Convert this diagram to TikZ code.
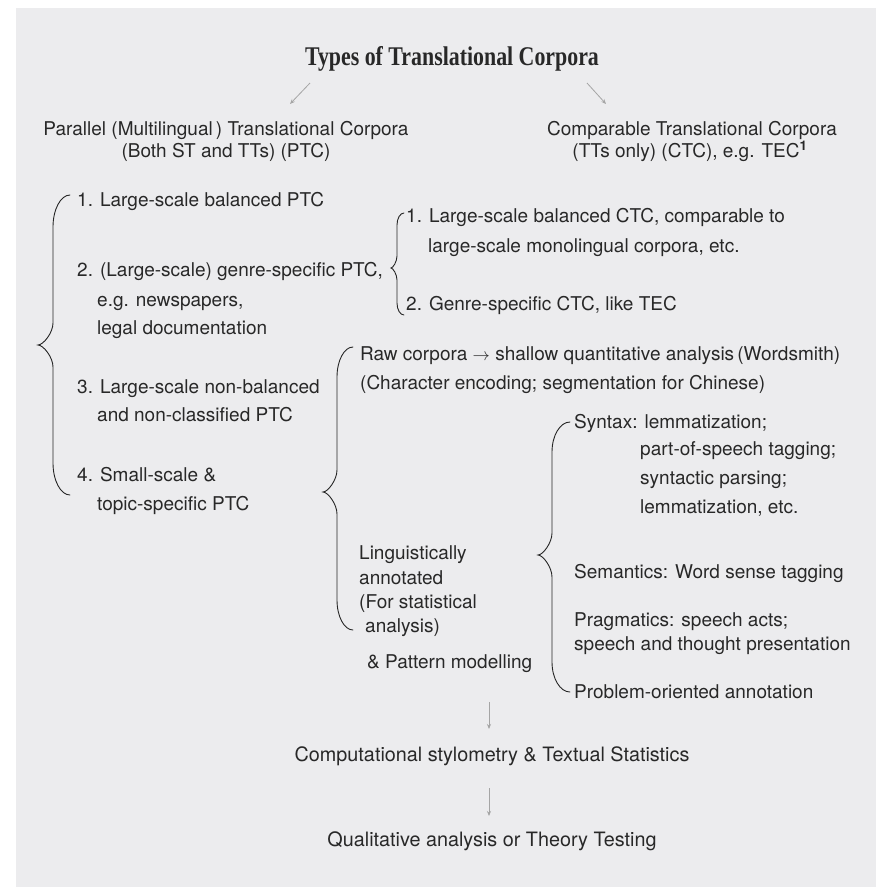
\documentclass[tikz,border=0pt]{standalone}
\usepackage{fontspec}
\setmainfont{TeX Gyre Heros}
\newfontfamily\titlefont{Liberation Serif}
\usepackage{graphicx}
\usetikzlibrary{arrows.meta}
\definecolor{bg}{RGB}{236,236,238}
\definecolor{txt}{RGB}{40,40,40}
\definecolor{arr}{RGB}{165,165,165}
% brace: #1 end x, #2 top y, #3 bottom y, #4 stem x, #5 tip x, #6 tip y, #7 end curve, #8 tip curve
\newcommand\cbrace[8]{\draw[bracestyle] (#1,#2) .. controls (#4+0.45*#1-0.45*#4,#2) and (#4,#2+0.45*#7) .. (#4,#2+#7) -- (#4,#6-#8) .. controls (#4,#6-0.55*#8) and (#5+0.35*#4-0.35*#5,#6) .. (#5,#6) .. controls (#5+0.35*#4-0.35*#5,#6) and (#4,#6+0.55*#8) .. (#4,#6+#8) -- (#4,#3-#7) .. controls (#4,#3-0.45*#7) and (#4+0.45*#1-0.45*#4,#3) .. (#1,#3);}
\begin{document}
\begin{tikzpicture}[x=1pt,y=-1pt,
  t/.style={anchor=base west, inner sep=0pt, text=txt, font=\fontsize{19}{22}\selectfont},
  tc/.style={t, anchor=base},
  tb/.style={tc, font=\fontsize{19.8}{23}\selectfont},
  bracestyle/.style={draw=black!85, line width=0.9pt, line cap=round},
  arrowstyle/.style={draw=arr, line width=0.8pt, -{Stealth[length=5pt,width=4pt]}}]

\useasboundingbox (0,0) rectangle (876,887);
\fill[bg] (16,8) rectangle (876,887);

% title
\node[anchor=base, inner sep=0pt, text=txt] (title) at (452,65)
  {\scalebox{0.81}[1]{\titlefont\bfseries\fontsize{27}{30}\selectfont Types of Translational Corpora}};

\coordinate (la1) at (310,83); \coordinate (la2) at (290,104);
\coordinate (ra1) at (587,83); \coordinate (ra2) at (606,104);
\draw[arrowstyle] (la1) -- (la2);
\draw[arrowstyle] (ra1) -- (ra2);

% headers
\node[tc] (ptc1) at (226,135) {Parallel (Multilingual\,) Translational Corpora};
\node[tc] (ptc2) at (226,157) {(Both ST and TTs) (PTC)};
\node[tc] (ctc1) at (692,135) {Comparable Translational Corpora};
\node[tc] (ctc2) at (690,157) {(TTs only) (CTC), e.g. TEC\textsuperscript{\bfseries 1}};

% left list
\cbrace{70}{195}{495}{53}{38}{345}{32}{22}
\node[t] (p1) at (77,206) {1. Large-scale balanced PTC};
\node[t] (p2a) at (77,276) {2. (Large-scale) genre-specific PTC,};
\node[t] (p2b) at (97,306) {e.g. newspapers,};
\node[t] (p2c) at (97,334) {legal documentation};
\node[t] (p3a) at (77,393) {3. Large-scale non-balanced};
\node[t] (p3b) at (97,421) {and non-classified PTC};
\node[t] (p4a) at (77,481) {4. Small-scale \&};
\node[t] (p4b) at (97,510) {topic-specific PTC};

% CTC list
\cbrace{404}{213}{315}{397}{391}{268}{12}{12}
\node[t] (c1a) at (406,222) {1. Large-scale balanced CTC, comparable to};
\node[t] (c1b) at (428,252) {large-scale monolingual corpora, etc.};
\node[t] (c2) at (406,310) {2. Genre-specific CTC, like TEC};

% middle brace
\cbrace{353}{347}{630}{337}{323}{492}{30}{22}
\node[t] (raw1) at (360,360) {Raw corpora $\rightarrow$ shallow quantitative analysis\,(Wordsmith)};
\node[t] (raw2) at (360,389) {(Character encoding; segmentation for Chinese)};
\node[t] (la) at (359,559) {Linguistically};
\node[t] (lb) at (359,584) {annotated};
\node[t] (lc) at (359,608) {(For statistical};
\node[t] (ld) at (365,632) {analysis)};
\node[t] (pm) at (367,668) {\& Pattern modelling};

% annotation brace
\cbrace{570}{422}{692}{552}{538}{555}{30}{22}
\node[t] (s1) at (574,428) {Syntax: lemmatization;};
\node[t] (s2) at (640,455) {part-of-speech tagging;};
\node[t] (s3) at (640,484) {syntactic parsing;};
\node[t] (s4) at (640,513) {lemmatization, etc.};
\node[t] (sem) at (574,578) {Semantics: Word sense tagging};
\node[t] (pr1) at (574,626) {Pragmatics: speech acts;};
\node[t] (pr2) at (574,650) {speech and thought presentation};
\node[t] (po) at (574,698) {Problem-oriented annotation};

% bottom
\coordinate (d1a) at (489,702); \coordinate (d1b) at (489,729);
\draw[arrowstyle] (d1a) -- (d1b);
\node[tb] (comp) at (492,761) {Computational stylometry \& Textual Statistics};
\coordinate (d2a) at (489,788); \coordinate (d2b) at (489,816);
\draw[arrowstyle] (d2a) -- (d2b);
\node[tb] (qual) at (492,846) {Qualitative analysis or Theory Testing};
\end{tikzpicture}
\end{document}
